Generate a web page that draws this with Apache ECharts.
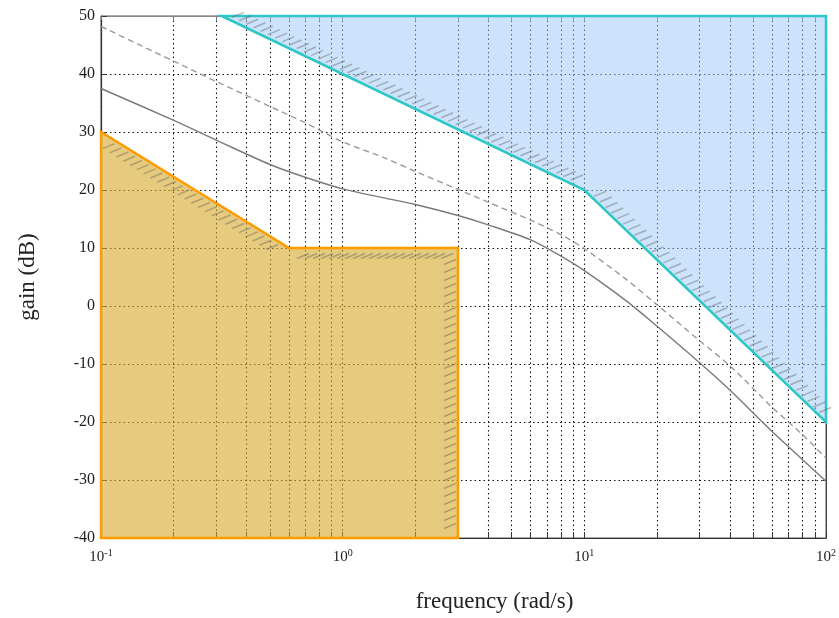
<!DOCTYPE html>
<html>
<head>
<meta charset="utf-8">
<script src="https://cdn.jsdelivr.net/npm/echarts@6/dist/echarts.min.js"></script>
<style>
  html, body { margin: 0; padding: 0; background: #fff; }
  #main { width: 839px; height: 618px; }
</style>
</head>
<body>
<div id="main"></div>
<script>
// frequency samples (rad/s) for the two loop curves
var freq = [0.1, 0.2, 0.3, 0.5, 0.7, 1, 1.5, 2, 3, 4, 6, 8, 10, 15, 20, 30, 40, 60, 80, 100];
// solid curve (dB)
var gainSolid = [37.5, 32, 28.6, 24.4, 22.2, 20.2, 18.6, 17.5, 15.6, 14.0, 11.4, 8.6, 6.1, 0.8, -3.5, -9.8, -14.5, -21.7, -26.5, -30.2];
// dashed curve (dB)
var gainDashed = [48.2, 42.2, 38.7, 34.4, 31.6, 28.3, 25.5, 23.2, 20.1, 17.9, 14.8, 12.3, 9.9, 4.5, 0.2, -6, -10.3, -17.5, -22.2, -26.2];

// low frequency performance region (orange) and high frequency region (blue)
var lowRegion = [[0.1, -40], [0.1, 30], [0.6, 10], [3, 10], [3, -40]];
var lowHatch = [1, 2, 3, 4];      // vertex indexes of the hatched edge
var highRegion = [[0.316, 50], [10, 20], [100, -20], [100, 50]];
var highHatch = [0, 1, 2];

// log grid values (decades + minor)
var logTicks = [];
[0.1, 1, 10].forEach(function (d) {
  for (var k = 1; k < 10; k++) logTicks.push(+(d * k).toPrecision(3));
});
logTicks.push(100);

var serif = 'Liberation Serif';

function zip(xs, ys) {
  return xs.map(function (x, i) { return [x, ys[i]]; });
}

function regionRender(poly, hatchIdx, fill, stroke) {
  return function (params, api) {
    if (params.dataIndex !== 0) return null;
    var pts = poly.map(function (p) { return api.coord(p); });
    var cx = 0, cy = 0;
    pts.forEach(function (p) { cx += p[0]; cy += p[1]; });
    cx /= pts.length; cy /= pts.length;
    var children = [{
      type: 'polygon',
      shape: { points: pts },
      style: { fill: fill, stroke: stroke, lineWidth: 2.5, lineJoin: 'miter' },
      z2: 1
    }];
    // hatch marks along constraint edges
    for (var e = 0; e < hatchIdx.length - 1; e++) {
      var a = pts[hatchIdx[e]], b = pts[hatchIdx[e + 1]];
      var dx = b[0] - a[0], dy = b[1] - a[1];
      var L = Math.sqrt(dx * dx + dy * dy);
      var ux = dx / L, uy = dy / L;
      var nx = -uy, ny = ux;
      var mx = (a[0] + b[0]) / 2, my = (a[1] + b[1]) / 2;
      if ((cx - mx) * nx + (cy - my) * ny < 0) { nx = -nx; ny = -ny; }
      for (var t = 14; t < L - 8; t += 8) {
        var bx = a[0] + ux * t + nx * 8, by = a[1] + uy * t + ny * 8;
        children.push({
          type: 'line',
          shape: { x1: bx - 6, y1: by + 2.5, x2: bx + 6, y2: by - 2.5 },
          style: { stroke: 'rgba(90,90,90,0.4)', lineWidth: 1.5 },
          z2: 2
        });
      }
    }
    return { type: 'group', children: children };
  };
}

var chart = echarts.init(document.getElementById('main'));

var option = {
  animation: false,
  backgroundColor: '#fff',
  grid: {
    left: 101, right: 7, top: 16, bottom: 78,
    show: true, borderColor: '#555', borderWidth: 1
  },
  xAxis: [{
    type: 'log',
    logBase: 10,
    min: 0.1,
    max: 100,
    name: 'frequency (rad/s)',
    nameLocation: 'middle',
    nameGap: 52,
    nameTextStyle: { fontFamily: serif, fontSize: 23, color: '#222', padding: [0, 0, 0, 62] },
    axisLine: { onZero: false, lineStyle: { color: '#333', width: 1.2 } },
    axisTick: { inside: true, length: 6, customValues: logTicks, lineStyle: { color: '#333' } },
    axisLabel: {
      fontFamily: serif, fontSize: 15, color: '#222', margin: 10,
      customValues: [0.1, 1, 10, 100],
      formatter: function (v) {
        return '10{sup|' + Math.round(Math.log10(v)) + '}';
      },
      rich: { sup: { fontFamily: serif, fontSize: 10, verticalAlign: 'top', padding: [0, 0, 8, 0], color: '#222' } }
    },
    splitLine: { show: true, lineStyle: { color: '#111', type: [1.5, 3], width: 1.1 } }
  }, {
    type: 'log',
    logBase: 10,
    min: 0.1,
    max: 100,
    position: 'top',
    axisLine: { onZero: false, lineStyle: { color: '#888' } },
    axisTick: { inside: true, length: 4, customValues: logTicks, lineStyle: { color: '#777' } },
    axisLabel: { show: false },
    splitLine: { show: false }
  }],
  yAxis: [{
    type: 'value',
    min: -40,
    max: 50,
    interval: 10,
    name: 'gain (dB)',
    nameLocation: 'middle',
    nameGap: 62,
    nameTextStyle: { fontFamily: serif, fontSize: 23, color: '#222' },
    axisLine: { show: true, onZero: false, lineStyle: { color: '#333', width: 1.2 } },
    axisTick: { show: true, inside: true, length: 6, lineStyle: { color: '#333' } },
    axisLabel: { fontFamily: serif, fontSize: 16, color: '#222', margin: 6 },
    splitLine: { show: true, lineStyle: { color: '#111', type: [1.5, 3], width: 1.1 } }
  }, {
    type: 'value',
    min: -40,
    max: 50,
    interval: 10,
    position: 'right',
    axisLine: { show: true, onZero: false, lineStyle: { color: '#444' } },
    axisTick: { show: true, inside: true, length: 5, lineStyle: { color: '#444' } },
    axisLabel: { show: false },
    splitLine: { show: false }
  }],
  series: [{
    type: 'custom',
    name: 'low',
    xAxisIndex: 0, yAxisIndex: 0,
    data: lowRegion,
    renderItem: regionRender(lowRegion, lowHatch, 'rgba(213,168,40,0.6)', '#ff9a00'),
    z: 2
  }, {
    type: 'custom',
    name: 'high',
    xAxisIndex: 0, yAxisIndex: 0,
    data: highRegion,
    renderItem: regionRender(highRegion, highHatch, 'rgba(153,199,247,0.5)', '#2fc6c6'),
    z: 2
  }, {
    type: 'line',
    name: 'solid',
    data: zip(freq, gainSolid),
    smooth: 0.3,
    symbol: 'none',
    lineStyle: { color: '#7a7a7a', width: 1.4 },
    z: 3
  }, {
    type: 'line',
    name: 'dashed',
    data: zip(freq, gainDashed),
    smooth: 0.3,
    symbol: 'none',
    lineStyle: { color: '#9a9a9a', width: 1.4, type: [6, 4] },
    z: 3
  }]
};
chart.setOption(option);
</script>
</body>
</html>
